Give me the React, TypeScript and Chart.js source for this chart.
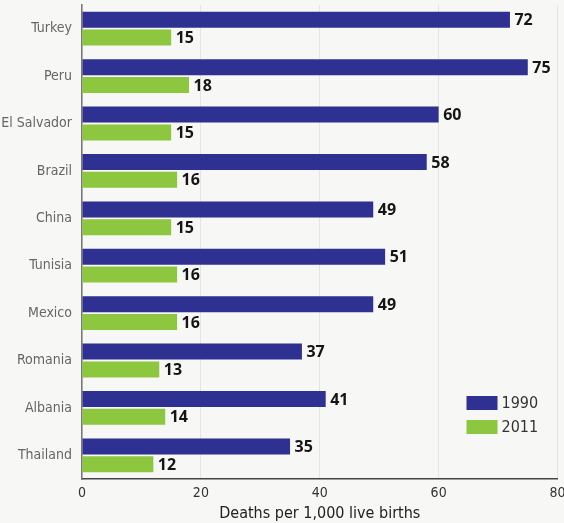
import React, { useEffect, useRef } from "react";
import { Chart, registerables } from "chart.js";

Chart.register(...registerables);

const countries = ["Turkey", "Peru", "El Salvador", "Brazil", "China", "Tunisia", "Mexico", "Romania", "Albania", "Thailand"];
const values1990 = [72, 75, 60, 58, 49, 51, 49, 37, 41, 35];
const values2011 = [15, 18, 15, 16, 15, 16, 16, 13, 14, 12];
const seriesLabels = ["1990", "2011"];
const xTicks = [0, 20, 40, 60, 80];
const axisTitle = "Deaths per 1,000 live births";

const NAVY = "#2e3192";
const GREEN = "#8dc63f";
const FONT = "'Liberation Sans Narrow', 'DejaVu Sans Condensed', 'Liberation Sans', sans-serif";

const valueLabelPlugin = {
  id: "valueLabels",
  afterDatasetsDraw(chart: any) {
    const ctx = chart.ctx;
    ctx.save();
    ctx.font = "bold 16px 'Open Sans', 'DejaVu Sans', sans-serif";
    ctx.fillStyle = "#151515";
    ctx.textBaseline = "middle";
    ctx.textAlign = "left";
    chart.data.datasets.forEach((ds: any, i: number) => {
      const meta = chart.getDatasetMeta(i);
      meta.data.forEach((bar: any, j: number) => {
        ctx.fillText(String(ds.data[j]), bar.x + 4.5, bar.y + 1);
      });
    });
    ctx.restore();
  },
};

const legendPlugin = {
  id: "insideLegend",
  afterDraw(chart: any) {
    const ctx = chart.ctx;
    const area = chart.chartArea;
    ctx.save();
    ctx.font = "16px " + FONT;
    ctx.textBaseline = "middle";
    ctx.textAlign = "left";
    chart.data.datasets.forEach((ds: any, i: number) => {
      const x = area.right - 91;
      const y = area.bottom - 83 + i * 24;
      ctx.fillStyle = ds.backgroundColor;
      ctx.fillRect(x, y, 31, 14);
      ctx.fillStyle = "#333";
      ctx.fillText(ds.label, x + 35, y + 7.5);
    });
    ctx.restore();
  },
};

export default function App() {
  const ref = useRef<HTMLCanvasElement>(null);
  useEffect(() => {
    const chart = new Chart(ref.current!, {
      type: "bar",
      data: {
        labels: countries,
        datasets: [
          { label: seriesLabels[0], data: values1990, backgroundColor: NAVY, barPercentage: 0.9, categoryPercentage: 0.75 },
          { label: seriesLabels[1], data: values2011, backgroundColor: GREEN, barPercentage: 0.9, categoryPercentage: 0.75 },
        ],
      },
      options: {
        indexAxis: "y",
        animation: false,
        responsive: false,
        maintainAspectRatio: false,
        layout: { padding: { top: 5, right: 0, left: 0, bottom: 0 } },
        plugins: {
          legend: { display: false },
          tooltip: { enabled: false },
        },
        scales: {
          x: {
            min: 0,
            max: 80,
            afterBuildTicks: (scale: any) => {
              scale.ticks = xTicks.map((v) => ({ value: v }));
            },
            afterFit: (scale: any) => {
              scale.height = 44;
              scale.paddingLeft = 0;
              scale.paddingRight = 6.5;
            },
            grid: { color: "#e4e4e2", drawTicks: false, lineWidth: 1 },
            border: { color: "#444", width: 1.5 },
            ticks: { color: "#333", font: { family: FONT, size: 14 }, padding: 6 },
            title: { display: true, text: axisTitle, color: "#222", font: { family: FONT, size: 16 }, padding: { top: 1, bottom: 0 } },
          },
          y: {
            afterFit: (scale: any) => {
              scale.width = 82;
              scale.paddingTop = 0;
              scale.paddingBottom = 0;
            },
            grid: { display: false, drawTicks: false },
            border: { color: "#777", width: 1.5 },
            ticks: { color: "#666", font: { family: FONT, size: 14 }, padding: 10 },
          },
        },
      },
      plugins: [valueLabelPlugin, legendPlugin],
    });
    return () => chart.destroy();
  }, []);
  return (
    <div style={{ position: "fixed", left: 0, top: 0, width: 564, height: 523, background: "#f7f7f5" }}>
      <canvas ref={ref} width={564} height={523} style={{ display: "block" }} />
    </div>
  );
}
